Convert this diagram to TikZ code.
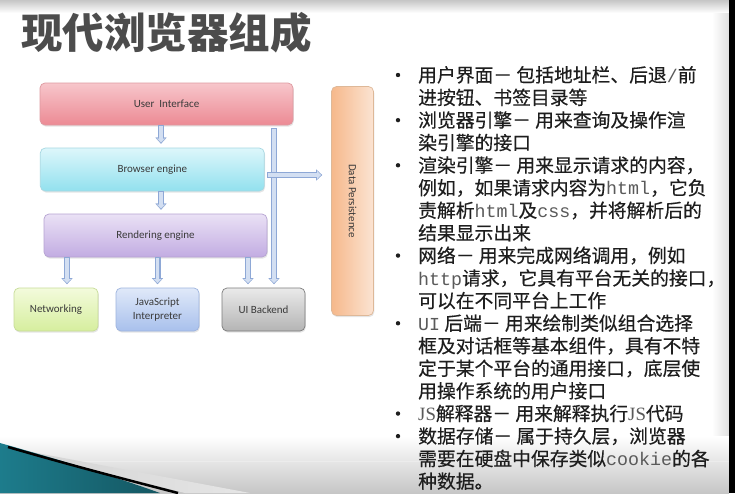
\documentclass[tikz,border=0pt]{standalone}
\usepackage{fontspec}
\setmainfont{Carlito}
\newfontfamily\cjk{Noto Sans CJK SC}[FakeBold=0.4]
\newfontfamily\cjktitle{Noto Sans CJK SC}
\newfontfamily\monofam{Liberation Mono}
\newfontfamily\seriffam{Liberation Serif}
\usetikzlibrary{shadows,arrows.meta,calc}

\definecolor{titlegray}{HTML}{4C4C4C}
\definecolor{bodytext}{HTML}{1E1E1E}
\definecolor{latgray}{HTML}{5A5A5A}
\definecolor{boxtext}{HTML}{3A3A3A}
\definecolor{aline}{HTML}{8EA8D6}
\definecolor{afill}{HTML}{D3DFF2}
\definecolor{uitop}{HTML}{F7C6CB}
\definecolor{uibot}{HTML}{EC8A94}
\definecolor{uiline}{HTML}{DE9AA1}
\definecolor{betop}{HTML}{DDF6FB}
\definecolor{bebot}{HTML}{92E1EE}
\definecolor{beline}{HTML}{A6D8E2}
\definecolor{retop}{HTML}{EAE1F5}
\definecolor{rebot}{HTML}{C2ACE2}
\definecolor{reline}{HTML}{B6A4D2}
\definecolor{nettop}{HTML}{F3FBDC}
\definecolor{netbot}{HTML}{D6EE9E}
\definecolor{netline}{HTML}{C7DC98}
\definecolor{jstop}{HTML}{E0E9F9}
\definecolor{jsbot}{HTML}{A8C0EC}
\definecolor{jsline}{HTML}{9EB4DE}
\definecolor{uibtop}{HTML}{EAEAEA}
\definecolor{uibbot}{HTML}{B4B4B4}
\definecolor{uibline}{HTML}{7C7C7C}
\definecolor{dpleft}{HTML}{F6B88B}
\definecolor{dpright}{HTML}{FBE4D3}
\definecolor{dpline}{HTML}{DEB898}
\definecolor{teal}{HTML}{1D7C8C}

\newcommand{\mw}[1]{{\monofam\fontsize{18.3}{22}\selectfont\color{latgray}#1}}
\newcommand{\sw}[1]{{\seriffam\color{latgray}#1}}

\tikzset{
  box/.style={rounded corners=5pt, draw, line width=0.7pt, text=boxtext,
    font=\fontsize{11}{14.5}\selectfont, align=center, inner sep=2pt,
    drop shadow={shadow xshift=0.8pt, shadow yshift=-1.6pt, opacity=0.2}},
  barrow/.style={
    preaction={draw=aline, line width=6pt, shorten >=#1, shorten <=0pt,
      -{Triangle[width=11pt,length=6pt,line width=0.1pt]}},
    draw=afill, line width=3.8pt, shorten >=#1+1.3pt, shorten <=0.8pt,
    -{Triangle[width=8pt,length=3.8pt,line width=0.1pt]}},
  barrow/.default=3.5pt,
  bul/.style={circle, fill=bodytext, inner sep=0pt, minimum size=4.4pt},
  txt/.style={anchor=base west, inner sep=0pt, text=bodytext,
    font=\cjk\fontsize{18.8}{22}\selectfont}
}

\begin{document}
\begin{tikzpicture}[x=1pt,y=-1pt]
\useasboundingbox (0,0) rectangle (735,493);
\fill[white] (0,0) rectangle (735,493);

% slide frame: top fade, right margin, bottom band and corner swoosh
\shade[top color=gray!45, bottom color=white] (0,0) rectangle (729,13);
\shade[left color=white, right color=gray!25] (712,13) rectangle (729,436);
\shade[top color=white, bottom color=gray!45] (0,436) rectangle (729,493);
\draw[white!85!gray, line width=1pt] (0,461) -- (729,461);
\shade[left color=gray!35, right color=gray!20] (10,448) -- (185,493) -- (250,493) -- cycle;
\shade[left color=teal, right color=teal!70!black] (0,443) .. controls (60,460) and (110,475) .. (160,493) -- (0,493) -- cycle;
\draw[black, line width=2.5pt] (8,447) .. controls (70,465) and (120,478) .. (178,493);
\fill[black] (729,0) rectangle (735,493);

% title
\node[anchor=west, inner sep=0pt, text=titlegray,
  font=\cjktitle\bfseries\fontsize{41.5}{45}\selectfont] (title) at (21,33) {现代浏览器组成};

% component boxes
\node[box, draw=uiline, top color=uitop, bottom color=uibot,
  minimum width=253pt, minimum height=42pt] (ui) at (166.5,104) {User\ \ Interface};
\node[box, draw=beline, top color=betop, bottom color=bebot,
  minimum width=224pt, minimum height=43pt] (be) at (152.3,169.5) {Browser engine};
\node[box, draw=reline, top color=retop, bottom color=rebot,
  minimum width=223pt, minimum height=43pt] (re) at (155.5,235.5) {Rendering engine};
\node[box, draw=netline, top color=nettop, bottom color=netbot,
  minimum width=84pt, minimum height=43pt] (net) at (56,309.5) {Networking};
\node[box, draw=jsline, top color=jstop, bottom color=jsbot,
  minimum width=83pt, minimum height=43pt] (js) at (157.5,309.5) {JavaScript\\Interpreter};
\node[box, draw=uibline, top color=uibtop, bottom color=uibbot,
  minimum width=83pt, minimum height=43pt] (uib) at (263.5,309.5) {UI Backend};
\node[box, draw=dpline, left color=dpleft, right color=dpright,
  minimum width=42pt, minimum height=229pt] (dp) at (352.5,201) {};
\node[rotate=-90, text=boxtext, font=\fontsize{11}{13}\selectfont] (dptext) at (dp.center) {Data Persistence};

% helper points for the connectors
\coordinate (c1) at ([xshift=-5.5pt]ui.south);
\coordinate (c2) at ([xshift=5.5pt]re.north);
\coordinate (c3) at ([xshift=11pt]net.north);
\coordinate (c4) at ([xshift=-15.5pt]uib.north);
\coordinate (c5) at ([xshift=10.5pt]uib.north);
\path (c5 |- ui.south) ++(0,3) coordinate (c5top);
\coordinate (hs) at ([xshift=2.5pt,yshift=-5.5pt]be.east);

% connectors
\draw[barrow=4pt] (c1) -- (c1 |- be.north);
\draw[barrow=4pt] (c2 |- be.south) -- (c2);
\draw[barrow] (c3 |- re.south) -- (c3);
\draw[barrow] (js.north |- re.south) -- (js.north);
\draw[barrow] (c4 |- re.south) -- (c4);
\draw[barrow] (c5top) -- (c5);
\draw[barrow=9pt] (hs) -- (hs -| dp.west);

% description list
\foreach \y in {0,2,4,8,11,15,16}
  \node[bul] (b\y) at (398,{75+22.57*\y}) {};
\foreach \t [count=\i from 0] in {
  {用户界面－ 包括地址栏、后退\mw{/}前},
  {进按钮、书签目录等},
  {浏览器引擎－ 用来查询及操作渲},
  {染引擎的接口},
  {渲染引擎－ 用来显示请求的内容，},
  {例如，如果请求内容为\mw{html}，它负},
  {责解析\mw{html}及\mw{css}，并将解析后的},
  {结果显示出来},
  {网络－ 用来完成网络调用，例如},
  {\mw{http}请求，它具有平台无关的接口，},
  {可以在不同平台上工作},
  {\mw{UI} 后端－ 用来绘制类似组合选择},
  {框及对话框等基本组件，具有不特},
  {定于某个平台的通用接口，底层使},
  {用操作系统的用户接口},
  {\sw{JS}解释器－ 用来解释执行\sw{JS}代码},
  {数据存储－ 属于持久层，浏览器},
  {需要在硬盘中保存类似\mw{cookie}的各},
  {种数据。}}
  \node[txt] (t\i) at (418,{82+22.57*\i}) {\t};
\end{tikzpicture}
\end{document}
